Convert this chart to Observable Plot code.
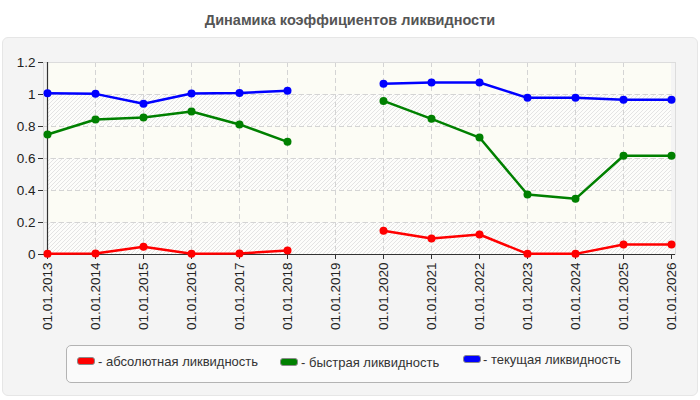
<!DOCTYPE html>
<html>
<head>
<meta charset="utf-8">
<script src="https://cdn.jsdelivr.net/npm/d3@7"></script>
<script src="https://cdn.jsdelivr.net/npm/@observablehq/plot@0.6"></script>
<style>
  html, body { margin: 0; padding: 0; background: #fff; width: 700px; height: 400px; overflow: hidden; font-family: "Liberation Sans", Arial, sans-serif; }
  #title { position: absolute; left: 0; top: 12px; width: 700px; text-align: center; font-weight: bold; font-size: 14.5px; color: #555; }
  #panel { position: absolute; left: 2px; top: 37px; width: 694px; height: 357px; background: #f4f4f4; border: 1px solid #e6e6e6; border-radius: 6px; }
  #chart { position: absolute; left: 0; top: 37px; }
  #legend { position: absolute; left: 66px; top: 345px; width: 564px; height: 36px; background: #fafafa; border: 1px solid #b3b3b3; border-radius: 5px; }
  .sw { position: absolute; width: 16px; height: 6px; border: 1px solid #8a8a8a; border-radius: 3px; }
  .lt { position: absolute; font-size: 13px; color: #333; white-space: nowrap; line-height: 15px; }
</style>
</head>
<body>
<div id="title">Динамика коэффициентов ликвидности</div>
<div id="panel"></div>
<div id="chart"></div>
<div id="legend"></div>
<script>
const dates = ["01.01.2013","01.01.2014","01.01.2015","01.01.2016","01.01.2017","01.01.2018","01.01.2019","01.01.2020","01.01.2021","01.01.2022","01.01.2023","01.01.2024","01.01.2025","01.01.2026"];
const absoluteLiq = [0.004,0.006,0.048,0.005,0.006,0.025,null,0.148,0.100,0.125,0.004,0.004,0.063,0.063];
const quickLiq    = [0.750,0.844,0.856,0.894,0.813,0.704,null,0.960,0.848,0.731,0.375,0.348,0.617,0.617];
const currentLiq  = [1.008,1.004,0.942,1.006,1.010,1.023,null,1.067,1.075,1.075,0.979,0.979,0.967,0.967];
const seriesNames = ["- абсолютная ликвидность","- быстрая ликвидность","- текущая ликвидность"];
const seriesColors = ["#ff0000","#008000","#0000ff"];
const yTicks = [0,0.2,0.4,0.6,0.8,1,1.2];
const yTickLabels = ["0","0.2","0.4","0.6","0.8","1","1.2"];

const seriesValues = [absoluteLiq, quickLiq, currentLiq];
const rows = [];
seriesValues.forEach((vals, si) => {
  vals.forEach((v, i) => rows.push({date: dates[i], value: v, series: seriesNames[si]}));
});

// background bands between horizontal grid lines (alternating hatched / plain)
const bands = [];
for (let i = 0; i < yTicks.length - 1; i++) {
  bands.push({y1: yTicks[i], y2: yTicks[i+1], hatch: i % 2 === 0});
}

const chart = Plot.plot({
  width: 700,
  height: 300,
  marginLeft: 43,
  marginRight: 25,
  marginTop: 25,
  marginBottom: 83,
  style: {background: "transparent", fontFamily: "'Liberation Sans', Arial, sans-serif", fontSize: "13.5px", color: "#222"},
  x: {type: "point", domain: dates, padding: 0, label: null},
  y: {domain: [0, 1.2], label: null},
  color: {domain: seriesNames, range: seriesColors},
  marks: [
    Plot.rect(bands, {x1: () => dates[0], x2: () => dates[dates.length-1], y1: "y1", y2: "y2",
      fill: d => d.hatch ? "url(#hatch)" : "#fcfcf5"}),
    Plot.gridY(yTicks.slice(0, -1), {stroke: "#d4d4d4", strokeOpacity: 1, strokeDasharray: "5,3"}),
    Plot.gridX(dates.slice(1, -1), {stroke: "#d4d4d4", strokeOpacity: 1, strokeDasharray: "5,3"}),
    Plot.frame({stroke: "#dcdcdc"}),
    Plot.ruleY([0], {stroke: "#333", strokeWidth: 1.2}),
    Plot.ruleX([dates[0]], {stroke: "#333", strokeWidth: 1.2}),
    Plot.axisY({ticks: yTicks, tickFormat: d => yTickLabels[yTicks.indexOf(d)], tickSize: 5, tickPadding: 3, fontSize: 13.5, stroke: "#333"}),
    Plot.axisX({tickRotate: -90, tickSize: 5, tickPadding: 3, fontSize: 13.5, stroke: "#333"}),
    Plot.line(rows, {x: "date", y: "value", z: "series", stroke: "series", strokeWidth: 2.5}),
    Plot.dot(rows, {x: "date", y: "value", fill: "series", r: 4})
  ]
});

// hatch pattern definition
const ns = "http://www.w3.org/2000/svg";
const defs = document.createElementNS(ns, "defs");
defs.innerHTML = '<pattern id="hatch" patternUnits="userSpaceOnUse" width="4" height="4">' +
  '<rect width="4" height="4" fill="#fdfdfb"/>' +
  '<path d="M-1,1 l2,-2 M0,4 l4,-4 M3,5 l2,-2" stroke="#e4e4e4" stroke-width="1"/></pattern>';
chart.insertBefore(defs, chart.firstChild);
document.getElementById("chart").appendChild(chart);

// legend
const legend = document.getElementById("legend");
const items = [
  {sx: 10, sy: 11, tx: 31, ty: 8},
  {sx: 213, sy: 11.5, tx: 234, ty: 8.5},
  {sx: 396, sy: 9, tx: 416, ty: 6}
];
seriesNames.forEach((name, i) => {
  const sw = document.createElement("div");
  sw.className = "sw";
  sw.style.left = items[i].sx + "px";
  sw.style.top = items[i].sy + "px";
  sw.style.background = seriesColors[i];
  legend.appendChild(sw);
  const t = document.createElement("div");
  t.className = "lt";
  t.style.left = items[i].tx + "px";
  t.style.top = items[i].ty + "px";
  t.textContent = name;
  legend.appendChild(t);
});
</script>
</body>
</html>
